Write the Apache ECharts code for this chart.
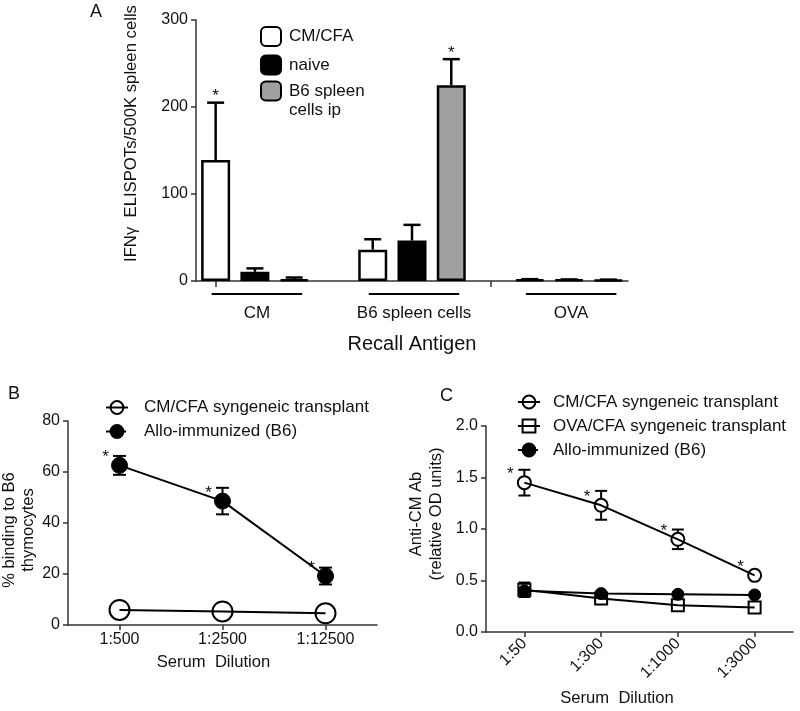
<!DOCTYPE html>
<html><head><meta charset="utf-8">
<script src="https://cdn.jsdelivr.net/npm/echarts@6/dist/echarts.min.js"></script>
<style>html,body{margin:0;padding:0;background:#fff}#c{width:800px;height:711px}</style>
</head><body><div id="c"></div>
<script>
// ---------- Panel A data ----------
const antigens = ['CM', 'B6 spleen cells', 'OVA'];
const groupNamesA = ['CM/CFA', 'naive', 'B6 spleen cells ip'];
const cmcfaMean = [139, 36, 1.7];
const cmcfaErr = [66, 12, 0.4];
const naiveMean = [10.5, 46.5, 1.5];
const naiveErr = [4, 18, 0.3];
const b6ipMean = [2, 225, 1.3];
const b6ipErr = [2, 30, 0.3];
const cmcfaSig = [true, false, false];
const naiveSig = [false, false, false];
const b6ipSig = [false, true, false];
const yTicksA = [0, 100, 200, 300];

// ---------- Panel B data ----------
const dilutionsB = ['1:500', '1:2500', '1:12500'];
const cmcfaBindMean = [5.9, 5.3, 4.6];
const alloBindMean = [62.6, 48.6, 19.2];
const alloBindErr = [3.7, 5.2, 3.3];
const alloBindSig = [true, true, true];
const yTicksB = [0, 20, 40, 60, 80];

// ---------- Panel C data ----------
const dilutionsC = ['1:50', '1:300', '1:1000', '1:3000'];
const cmcfaAbMean = [1.45, 1.23, 0.90, 0.55];
const cmcfaAbErr = [0.125, 0.14, 0.095, 0.03];
const cmcfaAbSig = [true, true, true, true];
const ovaAbMean = [0.41, 0.325, 0.26, 0.237];
const ovaAbErr = [0.07, 0.02, 0.02, 0.02];
const alloAbMean = [0.40, 0.373, 0.366, 0.36];
const alloAbErr = [0.02, 0.01, 0.01, 0.01];
const yTicksC = [0, 0.5, 1.0, 1.5, 2.0];

// ---------- build ----------
const FONT = '"Liberation Sans", Arial, sans-serif';
const INK = '#111';
const CLEAR = 'rgba(0,0,0,0)';
const AX = { lineStyle: { color: '#333', width: 1.5 } };

const meansA = [cmcfaMean, naiveMean, b6ipMean];
const errsA = [cmcfaErr, naiveErr, b6ipErr];
const sigsA = [cmcfaSig, naiveSig, b6ipSig];
const fillsA = ['#ffffff', '#000000', '#a0a0a0'];
const perGroup = groupNamesA.length;
const slotsA = [];
antigens.forEach((a, g) => {
  groupNamesA.forEach((s, k) => slotsA.push(a + ' / ' + s));
  if (g < antigens.length - 1) slotsA.push('gap' + g);
});
const slotOf = (g, k) => g * (perGroup + 1) + k;

const barSeries = groupNamesA.map((name, k) => {
  const d = slotsA.map(() => '-');
  antigens.forEach((a, g) => { d[slotOf(g, k)] = meansA[k][g]; });
  return {
    type: 'bar', name, xAxisIndex: 0, yAxisIndex: 0, data: d,
    barWidth: 29, barGap: '-100%', z: 2,
    itemStyle: { color: fillsA[k], borderColor: '#000', borderWidth: 2.5 }
  };
});
const errDataA = [];
groupNamesA.forEach((name, k) => antigens.forEach((a, g) => {
  errDataA.push([slotOf(g, k), meansA[k][g], errsA[k][g], sigsA[k][g] ? 1 : 0]);
}));

function starText(x, y) {
  return { type: 'text', style: { text: '*', x, y, align: 'center', verticalAlign: 'middle',
    fontSize: 17, fontFamily: FONT, fill: INK } };
}
function errUp(params, api) {
  const x = api.value(0), m = api.value(1), e = api.value(2), sig = api.value(3);
  const p0 = api.coord([x, m]), p1 = api.coord([x, m + e]);
  const hw = 8.5;
  const st = { stroke: '#000', lineWidth: 2.5 };
  const ch = [
    { type: 'line', shape: { x1: p0[0], y1: p0[1], x2: p1[0], y2: p1[1] }, style: st },
    { type: 'line', shape: { x1: p1[0] - hw, y1: p1[1], x2: p1[0] + hw, y2: p1[1] }, style: st }
  ];
  if (sig) ch.push(starText(p1[0], p1[1] - 6));
  return { type: 'group', children: ch };
}
// error bars that start at the edge of a hollow symbol of radius r
function errBoth(hw, r) {
  return function (params, api) {
    const x = api.value(0), m = api.value(1), e = api.value(2), sig = api.value(3);
    const pc = api.coord([x, m]), pt = api.coord([x, m + e]), pb = api.coord([x, m - e]);
    const st = { stroke: '#000', lineWidth: 2 };
    const ch = [];
    if (pc[1] - pt[1] > r) {
      ch.push(
        { type: 'line', shape: { x1: pt[0], y1: pt[1], x2: pt[0], y2: pc[1] - r }, style: st },
        { type: 'line', shape: { x1: pb[0], y1: pc[1] + r, x2: pb[0], y2: pb[1] }, style: st },
        { type: 'line', shape: { x1: pt[0] - hw, y1: pt[1], x2: pt[0] + hw, y2: pt[1] }, style: st },
        { type: 'line', shape: { x1: pb[0] - hw, y1: pb[1], x2: pb[0] + hw, y2: pb[1] }, style: st }
      );
    }
    if (sig) ch.push(starText(pc[0] - 14, pc[1] - 8));
    return { type: 'group', children: ch };
  };
}
const groupSpanData = antigens.map((a, g) => [slotOf(g, 0), slotOf(g, perGroup - 1), g]);
function groupLabel(params, api) {
  const a = api.coord([api.value(0), 0]), b = api.coord([api.value(1), 0]);
  const y = a[1] + 13, x1 = a[0] - 4, x2 = b[0] + 8;
  return { type: 'group', children: [
    { type: 'line', shape: { x1, y1: y, x2, y2: y }, style: { stroke: '#000', lineWidth: 2 } },
    { type: 'text', style: { text: antigens[api.value(2)], x: (x1 + x2) / 2, y: y + 19,
      align: 'center', verticalAlign: 'middle', fontSize: 17, fontFamily: FONT, fill: INK } }
  ] };
}
const mk = (xs, ms, es, ss) => xs.map((c, i) => [i, ms[i], es[i], ss ? (ss[i] ? 1 : 0) : 0]);

const axisCommonY = (ticks, fmt, gap, name, nameSize, pad, lh) => ({
  type: 'value', min: ticks[0], max: ticks[ticks.length - 1], interval: ticks[1] - ticks[0],
  axisLine: { show: true, ...AX }, axisTick: { show: true, length: 5, ...AX },
  splitLine: { show: false },
  axisLabel: { fontSize: 16, fontFamily: FONT, color: INK, margin: 8, formatter: fmt },
  name, nameLocation: 'middle', nameRotate: 90, nameGap: gap,
  nameTextStyle: { fontSize: nameSize, fontFamily: FONT, color: INK, padding: pad, lineHeight: lh }
});
const legText = (pad) => ({ fontSize: 17, fontFamily: FONT, color: INK, padding: pad });

const option = {
  animation: false,
  backgroundColor: '#fff',
  textStyle: { fontFamily: FONT },
  title: [
    { text: 'A', left: 90, top: 3, padding: 0, textStyle: { fontSize: 18, fontWeight: 'normal', fontFamily: FONT, color: INK } },
    { text: 'B', left: 8, top: 385, padding: 0, textStyle: { fontSize: 18, fontWeight: 'normal', fontFamily: FONT, color: INK } },
    { text: 'C', left: 440, top: 387, padding: 0, textStyle: { fontSize: 18, fontWeight: 'normal', fontFamily: FONT, color: INK } }
  ],
  grid: [
    { left: 196, top: 20, width: 432, height: 261, containLabel: false, outerBoundsMode: 'none' },
    { left: 68, top: 421, width: 309, height: 204, containLabel: false, outerBoundsMode: 'none' },
    { left: 486, top: 426, width: 307, height: 206, containLabel: false, outerBoundsMode: 'none' }
  ],
  legend: [
    { data: groupNamesA.slice(0, 2), orient: 'vertical', left: 260, top: 26, padding: 0,
      itemWidth: 20, itemHeight: 19, itemGap: 7.5, selectedMode: false,
      textStyle: legText([0, 0, 0, 3]) },
    { data: [groupNamesA[2]],
      orient: 'vertical', left: 260, top: 62.5, padding: 0,
      itemWidth: 20, itemHeight: 19, selectedMode: false,
      formatter: n => ' \n' + n.replace('spleen ', 'spleen\n'),
      textStyle: { fontSize: 17, fontFamily: FONT, color: INK, lineHeight: 19, padding: [0, 0, 0, 3] } },
    { data: [{ name: 'CM/CFA syngeneic transplant', itemStyle: { color: CLEAR } },
             { name: 'Allo-immunized (B6)', lineStyle: { type: [4, 4] } }],
      orient: 'vertical', left: 105, top: 399, padding: 0, itemWidth: 22, itemHeight: 16, itemGap: 7,
      selectedMode: false, textStyle: legText([0, 0, 0, 11]) },
    { data: [{ name: 'CM/CFA syngeneic transplant', itemStyle: { color: CLEAR } },
             { name: 'OVA/CFA syngeneic transplant', itemStyle: { color: CLEAR } },
             { name: 'Allo-immunized (B6)', lineStyle: { type: [4, 4] } }],
      orient: 'vertical', left: 517, top: 393.5, padding: 0, itemWidth: 22, itemHeight: 16, itemGap: 7,
      selectedMode: false, textStyle: legText([0, 0, 0, 8]) }
  ],
  xAxis: [
    { gridIndex: 0, type: 'category', data: slotsA, boundaryGap: true,
      axisLine: { show: true, ...AX }, axisTick: { show: true, alignWithLabel: true, length: 6, ...AX },
      axisLabel: { show: false }, splitLine: { show: false },
      name: 'Recall Antigen', nameLocation: 'middle', nameGap: 53,
      nameTextStyle: { fontSize: 20, fontFamily: FONT, color: INK } },
    { gridIndex: 1, type: 'category', data: dilutionsB, boundaryGap: true,
      axisLine: { show: true, ...AX }, axisTick: { show: true, alignWithLabel: true, length: 5, ...AX },
      axisLabel: { fontSize: 16, fontFamily: FONT, color: INK, margin: 7 },
      name: 'Serum  Dilution', nameLocation: 'middle', nameGap: 29,
      nameTextStyle: { fontSize: 16.6, fontFamily: FONT, color: INK, padding: [0, 18, 0, 0] } },
    { gridIndex: 2, type: 'category', data: dilutionsC, boundaryGap: true,
      axisLine: { show: true, ...AX }, axisTick: { show: true, alignWithLabel: true, length: 5, ...AX },
      axisLabel: { fontSize: 16, fontFamily: FONT, color: INK, margin: 9, rotate: 45 },
      name: 'Serum  Dilution', nameLocation: 'middle', nameGap: 58,
      nameTextStyle: { fontSize: 16.6, fontFamily: FONT, color: INK, padding: [0, 45, 0, 0] } }
  ],
  yAxis: [
    { gridIndex: 0, ...axisCommonY(yTicksA, null, 55, 'IFNγ  ELISPOTs/500K spleen cells', 16.7, [0, 0, 0, 34], 19) },
    { gridIndex: 1, ...axisCommonY(yTicksB, null, 23, '% binding to B6\nthymocytes', 16.5, [0, 14, 0, 0], 19) },
    { gridIndex: 2, ...axisCommonY(yTicksC, v => v.toFixed(1), 40, 'Anti-CM Ab\n(relative OD units)', 16.5, [0, 0, 0, 30], 20) }
  ],
  series: [
    ...barSeries,
    { type: 'custom', name: 'errA', xAxisIndex: 0, yAxisIndex: 0, z: 3, clip: false,
      renderItem: errUp, data: errDataA, encode: { x: 0, y: 1 } },
    { type: 'custom', name: 'groupsA', xAxisIndex: 0, yAxisIndex: 0, z: 3, clip: false,
      renderItem: groupLabel, data: groupSpanData, encode: { x: 0, y: 2 } },

    { type: 'custom', name: 'errB', xAxisIndex: 1, yAxisIndex: 1, z: 1, clip: false,
      renderItem: errBoth(6.5, 7), data: mk(dilutionsB, alloBindMean, alloBindErr, alloBindSig), encode: { x: 0, y: 1 } },
    { type: 'line', name: 'CM/CFA syngeneic transplant', xAxisIndex: 1, yAxisIndex: 1, z: 2,
      data: cmcfaBindMean, symbol: 'circle', symbolSize: 20,
      lineStyle: { color: '#000', width: 2 }, itemStyle: { color: CLEAR, borderColor: '#000', borderWidth: 2 } },
    { type: 'line', name: 'Allo-immunized (B6)', xAxisIndex: 1, yAxisIndex: 1, z: 2,
      data: alloBindMean, symbol: 'circle', symbolSize: 16,
      lineStyle: { color: '#000', width: 2 }, itemStyle: { color: '#000', borderColor: '#000', borderWidth: 1 } },

    { type: 'custom', name: 'errC1', xAxisIndex: 2, yAxisIndex: 2, z: 1, clip: false,
      renderItem: errBoth(6, 6.5), data: mk(dilutionsC, cmcfaAbMean, cmcfaAbErr, cmcfaAbSig), encode: { x: 0, y: 1 } },
    { type: 'custom', name: 'errC2', xAxisIndex: 2, yAxisIndex: 2, z: 1, clip: false,
      renderItem: errBoth(6, 6), data: mk(dilutionsC, ovaAbMean, ovaAbErr), encode: { x: 0, y: 1 } },
    { type: 'custom', name: 'errC3', xAxisIndex: 2, yAxisIndex: 2, z: 1, clip: false,
      renderItem: errBoth(6, 6), data: mk(dilutionsC, alloAbMean, alloAbErr), encode: { x: 0, y: 1 } },
    { type: 'line', name: 'CM/CFA syngeneic transplant', xAxisIndex: 2, yAxisIndex: 2, z: 2,
      data: cmcfaAbMean, symbol: 'circle', symbolSize: 13,
      lineStyle: { color: '#000', width: 2 }, itemStyle: { color: CLEAR, borderColor: '#000', borderWidth: 2 } },
    { type: 'line', name: 'OVA/CFA syngeneic transplant', xAxisIndex: 2, yAxisIndex: 2, z: 2,
      data: ovaAbMean, symbol: 'rect', symbolSize: 12,
      lineStyle: { color: '#000', width: 2 }, itemStyle: { color: CLEAR, borderColor: '#000', borderWidth: 2 } },
    { type: 'line', name: 'Allo-immunized (B6)', xAxisIndex: 2, yAxisIndex: 2, z: 2,
      data: alloAbMean, symbol: 'circle', symbolSize: 12,
      lineStyle: { color: '#000', width: 2 }, itemStyle: { color: '#000', borderColor: '#000', borderWidth: 1 } }
  ]
};
const chart = echarts.init(document.getElementById('c'), null, { renderer: 'canvas' });
chart.setOption(option);
</script></body></html>
